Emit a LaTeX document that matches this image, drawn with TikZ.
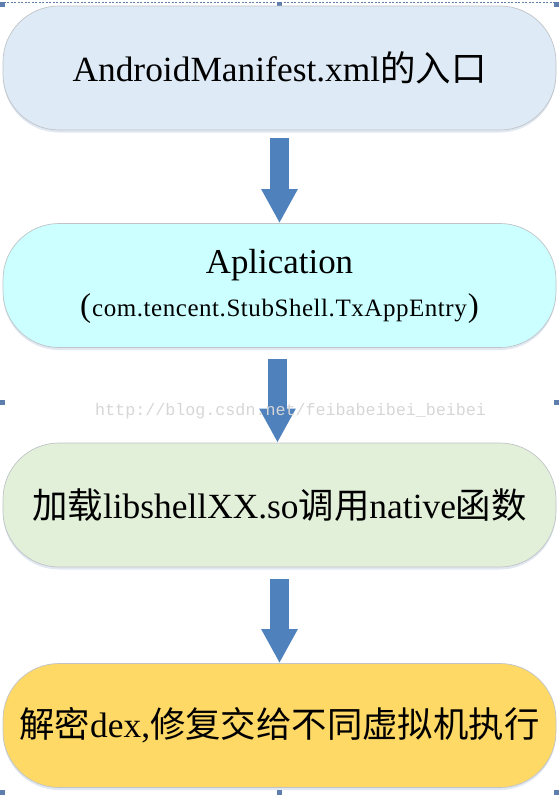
\documentclass[tikz,border=0pt]{standalone}
\usepackage{fontspec}
\setmainfont{Liberation Serif}
\newfontfamily\cjk{Noto Sans CJK SC}
\newfontfamily\wmfont{Liberation Mono}
\newfontfamily\spacedserif[LetterSpace=2.2]{Liberation Serif}
\usetikzlibrary{arrows.meta,shadows}
\newcommand{\zh}[1]{{\cjk #1}}
\definecolor{boxone}{HTML}{DEEAF6}
\definecolor{boxtwo}{HTML}{CCFFFF}
\definecolor{boxthree}{HTML}{E2EFD9}
\definecolor{boxfour}{HTML}{FFD966}
\definecolor{boxline}{HTML}{C0C4C8}
\definecolor{arrowc}{HTML}{4F81BD}
\definecolor{shadowc}{HTML}{A9BCD6}
\definecolor{framec}{HTML}{5E7FAE}
\definecolor{wmc}{HTML}{D6D6D6}
\begin{document}
\begin{tikzpicture}[x=1pt,y=-1pt,
  flowbox/.style={draw=boxline, line width=0.7pt, rounded corners=56pt,
    minimum width=553pt, minimum height=124pt, inner sep=0pt, align=center,
    font=\fontsize{35.4}{42}\selectfont,
    drop shadow={shadow xshift=0pt, shadow yshift=-2.5pt, opacity=0.35, fill=shadowc}},
  flowarrow/.style={draw=arrowc, line width=19pt,
    -{Triangle[width=34pt,length=34pt]}},
  handle/.style={fill=framec, draw=none}]
\useasboundingbox (0,0) rectangle (560,796);

% selection frame (top dashed line and handles)
\draw[framec, dashed, line width=0.5pt, dash pattern=on 2pt off 1.5pt] (0,2.5) -- (560,2.5);
\foreach \hx/\hy in {0/2, 277/2, 554/2, 0/400, 554/400, 0/790, 277/790, 554/790}
  \fill[handle] (\hx,\hy) rectangle ++(5,5);

\node[flowbox, fill=boxone] (b1) at (279.5,68)
  {AndroidManifest.xml\zh{的入口}};
\node[flowbox, fill=boxtwo, font=\fontsize{25}{43}\selectfont] (b2) at (279.5,285.5)
  {{\fontsize{34.9}{42}\selectfont\rule{0pt}{27.6pt}Aplication}\\
   \rule[-9pt]{0pt}{9pt}{\fontsize{33}{33}\selectfont(}\hspace{1pt}{\spacedserif com.tencent.StubShell.TxAppEntry}\hspace{1pt}{\fontsize{33}{33}\selectfont)}};
\node[flowbox, fill=boxthree] (b3) at (279.5,505)
  {\zh{加载}libshellXX.so\zh{调用}native\zh{函数}};
\node[flowbox, fill=boxfour] (b4) at (279.5,725.5)
  {\zh{解密}dex,\zh{修复交给不同虚拟机执行}};

\draw[flowarrow] ([xshift=0pt,yshift=-8pt]b1.south) -- (b2.north);
\draw[flowarrow] ([xshift=-2pt,yshift=-11pt]b2.south) -- ([xshift=-2pt]b3.north);
\draw[flowarrow] ([yshift=-12pt]b3.south) -- (b4.north);

\node[text=wmc, font=\wmfont\fontsize{16.7}{18}\selectfont, anchor=base west, inner sep=0pt]
  (wm) at (95,415) {http://blog.csdn.net/feibabeibei\_beibei};
\end{tikzpicture}
\end{document}
